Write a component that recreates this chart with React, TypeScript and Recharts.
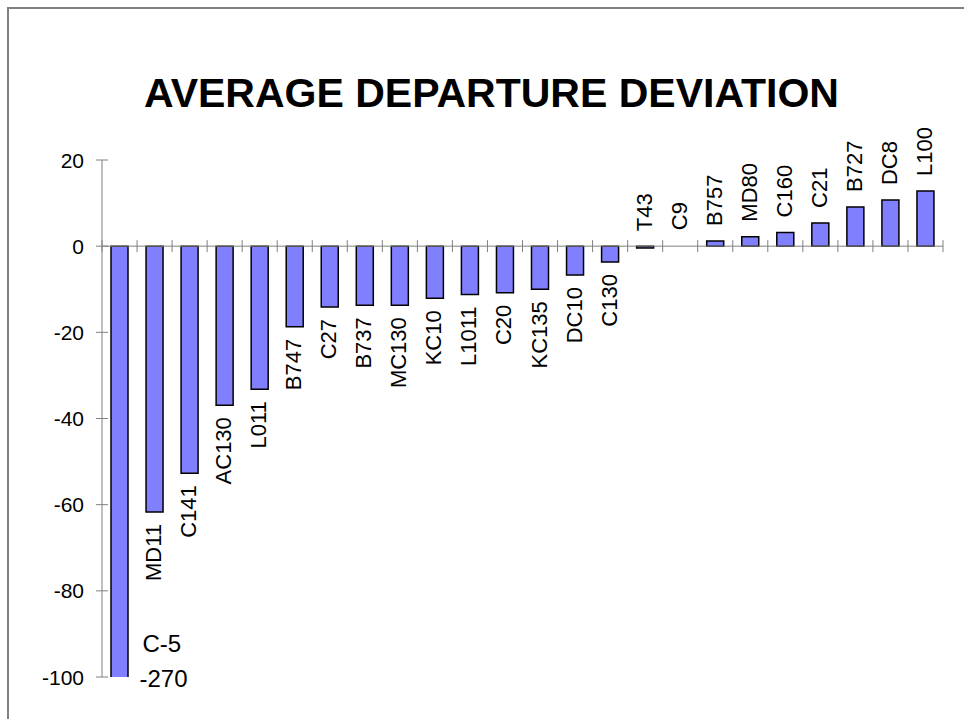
import { Bar, BarChart, LabelList, ReferenceDot, ReferenceLine, XAxis, YAxis } from "recharts";

const aircraft = ["C-5", "MD11", "C141", "AC130", "L011", "B747", "C27", "B737", "MC130", "KC10", "L1011", "C20",
  "KC135", "DC10", "C130", "T43", "C9", "B757", "MD80", "C160", "C21", "B727", "DC8", "L100"];
const deviation = [-270, -61.7, -52.7, -36.9, -33.2, -18.7, -14.1, -13.7, -13.7, -12.1, -11.2, -10.8,
  -10, -6.7, -3.7, -0.4, 0, 1.2, 2.2, 3.2, 5.4, 9.1, 10.7, 12.8];
const yTicks = [-100, -80, -60, -40, -20, 0, 20];

const font = '"Liberation Sans", Arial, sans-serif';

function DeviationTick({ x, y, payload }: any) {
  // tickSize is 0 and tickMargin 18, so the axis sits at x + 18
  return (
    <g>
      <line x1={x + 12} x2={x + 24} y1={y} y2={y} stroke="#808080" />
      <text x={x} y={y} dy="0.36em" textAnchor="end" fontSize={21} fill="#000" fontFamily={font}>
        {payload.value}
      </text>
    </g>
  );
}

function ZeroAxis({ x1, x2, y1 }: any) {
  const step = (x2 - x1) / aircraft.length;
  return (
    <g>
      <line x1={x1} x2={x2} y1={y1} y2={y1} stroke="#808080" />
      {Array.from({ length: aircraft.length + 1 }).map((_, i) => (
        <line key={i} x1={x1 + i * step} x2={x1 + i * step} y1={y1 - 6} y2={y1 + 6} stroke="#808080" />
      ))}
    </g>
  );
}

function VerticalName({ cx, y, name, below }: { cx: number; y: number; name: string; below: boolean }) {
  return (
    <text x={cx} y={y} transform={`rotate(-90 ${cx} ${y})`} textAnchor={below ? "end" : "start"}
      dominantBaseline="central" fontSize={22} fill="#000" fontFamily={font}>
      {name}
    </text>
  );
}

function BarName(props: any) {
  const { x, y, width, height, value } = props;
  const i = aircraft.indexOf(value);
  if (i <= 0) return null; // C-5 is off the scale, labelled separately
  const top = Math.min(y, y + height);
  const bottom = Math.max(y, y + height);
  const below = deviation[i] < -1;
  return <VerticalName cx={x + width / 2 - 1} y={below ? bottom + 12 : top - 15} name={value} below={below} />;
}

// recharts draws nothing (and no label) for a zero-height bar, so name those here
function ZeroName({ viewBox, name }: any) {
  return <VerticalName cx={viewBox.x - 1} y={viewBox.y - 16} name={name} below={false} />;
}

function OffScaleLabel({ viewBox }: any) {
  const { x, y } = viewBox;
  return (
    <g fontFamily={font} fontSize={24} fill="#000">
      <text x={x + 23} y={y - 25}>{aircraft[0]}</text>
      <text x={x + 20} y={y + 10}>{deviation[0]}</text>
    </g>
  );
}

export default function App() {
  const data = aircraft.map((name, i) => ({ name, value: deviation[i] }));

  return (
    <div style={{ position: "absolute", left: 0, top: 0, width: 964, height: 719, background: "#fff", fontFamily: font }}>
      <div style={{ position: "absolute", left: 7, top: 7, width: 957, height: 712, borderTop: "2px solid #808080", borderLeft: "2px solid #808080", boxSizing: "border-box" }} />
      <div style={{ position: "absolute", left: 0, top: 73, width: 964, paddingLeft: 19, boxSizing: "border-box", textAlign: "center", fontSize: 41, fontWeight: "bold", lineHeight: "41px" }}>
        AVERAGE DEPARTURE DEVIATION
      </div>
      <div style={{ position: "absolute", left: 0, top: 0 }}>
        <BarChart width={964} height={719} data={data} margin={{ top: 160, right: 21, bottom: 42, left: 42 }}>
          <XAxis dataKey="name" hide />
          <YAxis width={60} domain={[-100, 20]} ticks={yTicks} allowDataOverflow interval={0}
            tickSize={0} tickMargin={18} tickLine={false} axisLine={{ stroke: "#808080" }} tick={<DeviationTick />} />
          <ReferenceLine y={0} shape={<ZeroAxis />} />
          <Bar dataKey="value" fill="#8080FF" stroke="#000" strokeWidth={1.5} barSize={17} isAnimationActive={false}>
            <LabelList dataKey="name" content={<BarName />} />
          </Bar>
          {data.filter((d) => d.value === 0).map((d) => (
            <ReferenceDot key={d.name} x={d.name} y={0} r={0} fill="none" stroke="none"
              label={<ZeroName name={d.name} />} />
          ))}
          <ReferenceDot x={aircraft[0]} y={-100} r={0} fill="none" stroke="none" label={<OffScaleLabel />} />
        </BarChart>
      </div>
    </div>
  );
}
